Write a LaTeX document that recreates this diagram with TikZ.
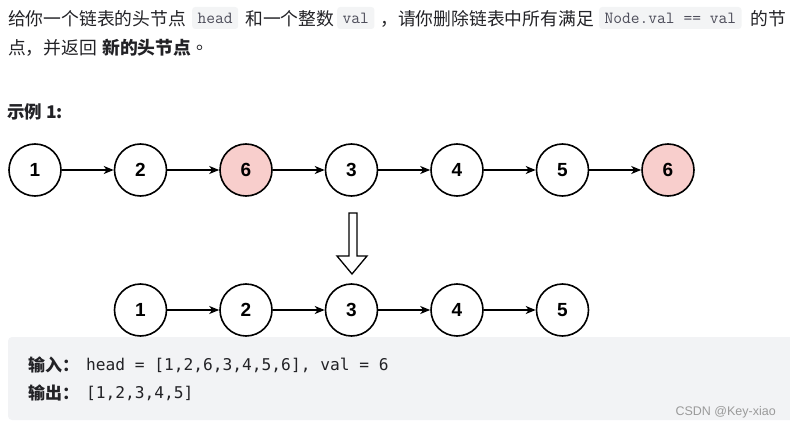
\documentclass[tikz,border=0pt]{standalone}
\usepackage{fontspec}
\setmainfont{Liberation Sans}
\newfontfamily\cjk{Noto Sans CJK SC}
\newfontfamily\dmono{DejaVu Sans Mono}
\usetikzlibrary{arrows.meta}
\definecolor{codebg}{HTML}{F3F4F5}
\definecolor{boxbg}{HTML}{F2F3F5}
\definecolor{pinkfill}{HTML}{F8CECC}
\definecolor{txt}{HTML}{222226}
\definecolor{codetxt}{HTML}{4D4D5A}
\definecolor{wm}{HTML}{9A9A9A}
\begin{document}
\begin{tikzpicture}[x=1pt,y=-1pt,
  cjktext/.style={anchor=west,inner sep=0pt,text=txt,font=\cjk\fontsize{17.8}{20}\selectfont},
  codebox/.style={anchor=west,fill=codebg,rounded corners=3pt,inner xsep=5.5pt,inner ysep=0pt,
     minimum height=22pt,text=codetxt,font=\ttfamily\fontsize{17}{18}\selectfont},
  lnode/.style={circle,draw=black,line width=1.6pt,minimum size=52pt,inner sep=0pt,
     font=\bfseries\fontsize{19}{20}\selectfont,fill=white},
  rnode/.style={lnode,fill=pinkfill},
  link/.style={line width=1.4pt,-{Stealth[length=10pt,width=8pt,inset=3pt]}},
  monotext/.style={anchor=west,inner sep=0pt,text=txt,font=\dmono\fontsize{16.2}{18}\selectfont},
]
\useasboundingbox (0,0) rectangle (790,428);
% text line 1
\node[cjktext] (t1) at (8,18.5) {给你一个链表的头节点};
\node[codebox] (c1) at (192,18) {head};
\node[cjktext] (t2) at (245,18.5) {和一个整数};
\node[codebox] (c2) at (337,18) {val};
\node[cjktext] (t3) at (380,18.5) {，请你删除链表中所有满足};
\node[codebox] (c3) at (599,18) {Node.val == val};
\node[cjktext] (t4) at (750,18.5) {的节};
% line 2
\node[cjktext] (t5) at (8,48) {点，并返回};
\node[cjktext,font=\cjk\bfseries\fontsize{17.8}{20}\selectfont] (t6) at (102,48) {新的头节点};
\node[cjktext] (t7) at (196,48) {。};
% example heading
\node[cjktext,font=\cjk\bfseries\fontsize{17.5}{20}\selectfont] (ex) at (7,112) {示例 1:};
% top list
\node[lnode] (a1) at (35,170) {1};
\node[lnode] (a2) at (140.5,170) {2};
\node[rnode] (a3) at (246,170) {6};
\node[lnode] (a4) at (351.5,170) {3};
\node[lnode] (a5) at (457,170) {4};
\node[lnode] (a6) at (562.5,170) {5};
\node[rnode] (a7) at (668,170) {6};
\foreach \i/\j in {a1/a2,a2/a3,a3/a4,a4/a5,a5/a6,a6/a7}
  \draw[link] (\i) -- (\j);
% hollow arrow
\draw[line width=1.3pt,fill=white,line join=miter]
  (349,213) -- (357,213) -- (357,256) -- (367,256) -- (352,274) -- (337,256) -- (349,256) -- cycle;
% bottom list
\node[lnode] (b1) at (140.5,310) {1};
\node[lnode] (b2) at (246,310) {2};
\node[lnode] (b3) at (351.5,310) {3};
\node[lnode] (b4) at (457,310) {4};
\node[lnode] (b5) at (562.5,310) {5};
\foreach \i/\j in {b1/b2,b2/b3,b3/b4,b4/b5}
  \draw[link] (\i) -- (\j);
% gray box
\fill[boxbg,rounded corners=4pt] (8,337) rectangle (794,420);
\node[cjktext,font=\cjk\bfseries\fontsize{17}{20}\selectfont] (in) at (28,365) {输入：};
\node[monotext] (inv) at (86,365) {head = [1,2,6,3,4,5,6], val = 6};
\node[cjktext,font=\cjk\bfseries\fontsize{17}{20}\selectfont] (out) at (28,393) {输出：};
\node[monotext] (outv) at (86,393) {[1,2,3,4,5]};
\node[anchor=east,inner sep=0pt,text=wm,font=\fontsize{12.5}{14}\selectfont] (wmk) at (776,412) {CSDN @Key-xiao};
\end{tikzpicture}
\end{document}
